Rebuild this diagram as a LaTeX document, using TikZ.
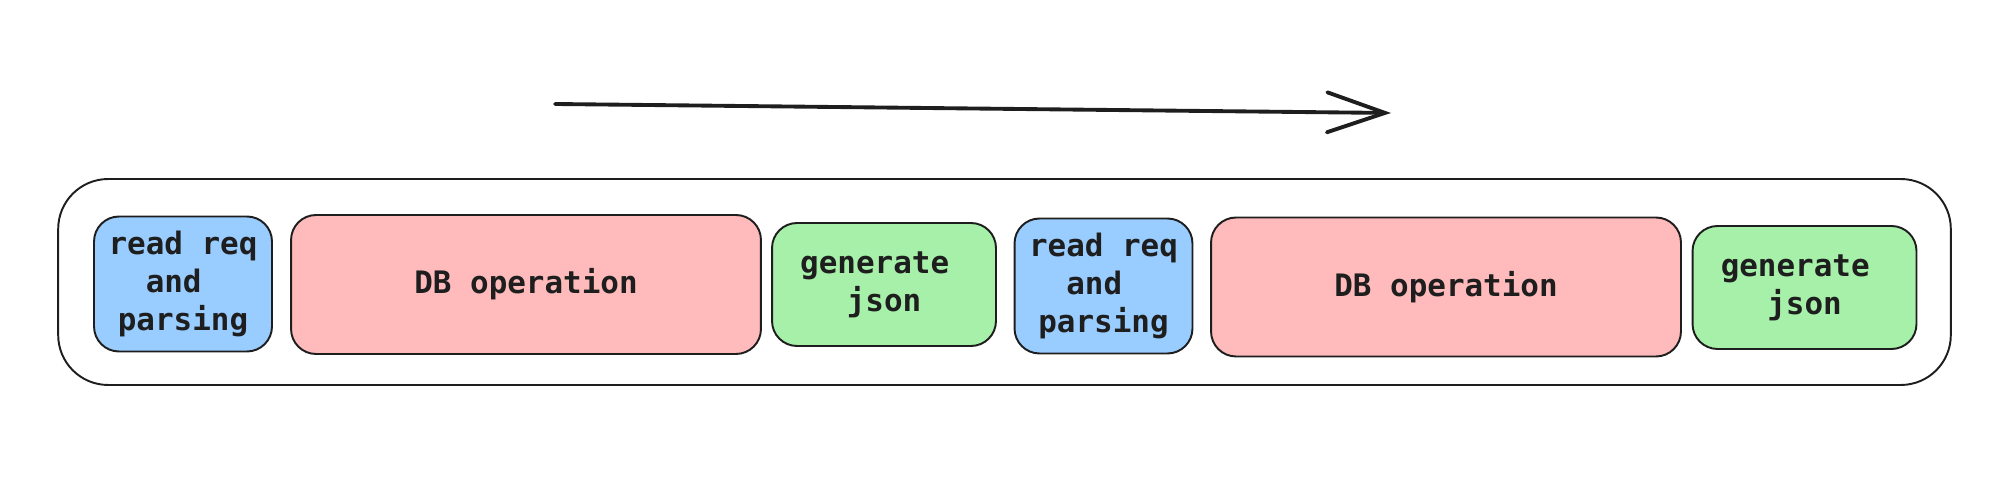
\documentclass[tikz,border=0pt]{standalone}
\usepackage{fontspec}
\setmonofont{DejaVu Sans Mono}
\usetikzlibrary{arrows.meta}
\definecolor{ink}{RGB}{30,30,30}
\definecolor{reqblue}{RGB}{153,204,255}
\definecolor{dbpink}{RGB}{255,187,187}
\definecolor{jsongreen}{RGB}{166,240,170}

\begin{document}
\begin{tikzpicture}[x=0.02cm,y=-0.02cm,
  every node/.style={draw=ink,line width=1.1pt,rounded corners=0.5cm,inner sep=0pt,align=center,
    text=ink,font=\ttfamily\bfseries\fontsize{17.6}{21.5}\selectfont},
  req/.style={fill=reqblue,minimum width=3.56cm,minimum height=2.7cm},
  db/.style={fill=dbpink,minimum width=9.4cm,minimum height=2.78cm},
  gen/.style={fill=jsongreen,minimum width=4.48cm,minimum height=2.46cm}]
  \useasboundingbox (0,0) rectangle (2010,492);
  \node[rounded corners=1cm,minimum width=37.86cm,minimum height=4.12cm] (frame) at (1004.5,282) {};
  \node[req] (req1) at (183,284) {read req\\and\hphantom{a}\\parsing};
  \node[db] (db1) at (526,284.5) {DB operation};
  \node[gen] (gen1) at (884,284.5) {generate\hphantom{a}\\json};
  \node[req] (req2) at (1103.5,286) {read req\\and\hphantom{a}\\parsing};
  \node[db] (db2) at (1446,287) {DB operation};
  \node[gen] (gen2) at (1804.5,287.5) {generate\hphantom{a}\\json};
  \coordinate (from) at (555,104);
  \coordinate (to) at (1391,113);
  \draw[ink,line width=2.2pt,line cap=round,-{Straight Barb[length=1.16cm,width=0.8cm,line cap=round]}] (from) -- (to);
\end{tikzpicture}
\end{document}
